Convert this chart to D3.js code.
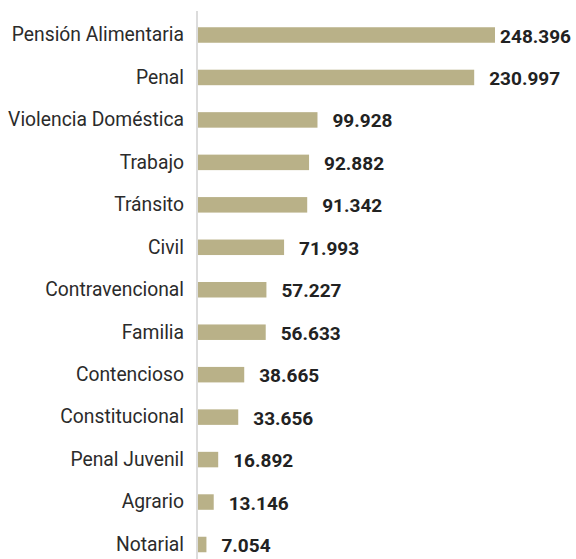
<!DOCTYPE html>
<html>
<head>
<meta charset="utf-8">
<script src="https://cdn.jsdelivr.net/npm/d3@7"></script>
<style>
  html, body { margin: 0; padding: 0; background: #ffffff; }
  svg { display: block; }
</style>
</head>
<body>
<svg id="chart" width="576" height="559"></svg>
<script>
// Casos por materia (en miles)
const categories = [
  "Pensión Alimentaria", "Penal", "Violencia Doméstica", "Trabajo", "Tránsito",
  "Civil", "Contravencional", "Familia", "Contencioso", "Constitucional",
  "Penal Juvenil", "Agrario", "Notarial"
];
const values = [
  248.396, 230.997, 99.928, 92.882, 91.342,
  71.993, 57.227, 56.633, 38.665, 33.656,
  16.892, 13.146, 7.054
];
const valueLabels = [
  "248.396", "230.997", "99.928", "92.882", "91.342",
  "71.993", "57.227", "56.633", "38.665", "33.656",
  "16.892", "13.146", "7.054"
];

const W = 576, H = 559;
const axisX = 197;
const barH = 15.5;
const labelGap = 15;
const font = "Roboto, 'Noto Sans', sans-serif";

const svg = d3.select("#chart");

const x = d3.scaleLinear().domain([0, 248.396]).range([axisX + 1, axisX + 1 + 297]);
const y = d3.scalePoint().domain(categories).range([35, 544.5]);

// vertical baseline
svg.append("line")
  .attr("x1", axisX).attr("x2", axisX)
  .attr("y1", 11).attr("y2", H)
  .attr("stroke", "#dcdcdc").attr("stroke-width", 2);

const rows = categories.map((c, i) => ({ c, v: values[i], t: valueLabels[i] }));

svg.append("g").selectAll("rect")
  .data(rows).join("rect")
  .attr("x", x(0))
  .attr("y", d => y(d.c) - barH / 2)
  .attr("width", d => x(d.v) - x(0))
  .attr("height", barH)
  .attr("fill", "#b9b188");

svg.append("g").selectAll("text")
  .data(rows).join("text")
  .attr("x", 184)
  .attr("y", d => y(d.c))
  .attr("dy", "0.33em")
  .attr("text-anchor", "end")
  .attr("font-family", font)
  .attr("font-size", 19.3)
  .attr("fill", "#2b2b2b")
  .text(d => d.c);

const vals = svg.append("g").selectAll("text")
  .data(rows).join("text")
  .attr("y", d => y(d.c) + 0.7)
  .attr("dy", "0.36em")
  .attr("font-family", font)
  .attr("font-weight", 700)
  .attr("font-size", 19)
  .attr("fill", "#222222")
  .text(d => d.t);

vals.each(function(d) {
  const w = this.getComputedTextLength();
  const px = Math.min(x(d.v) + labelGap, W - 5 - w);
  d3.select(this).attr("x", px);
});
</script>
</body>
</html>
